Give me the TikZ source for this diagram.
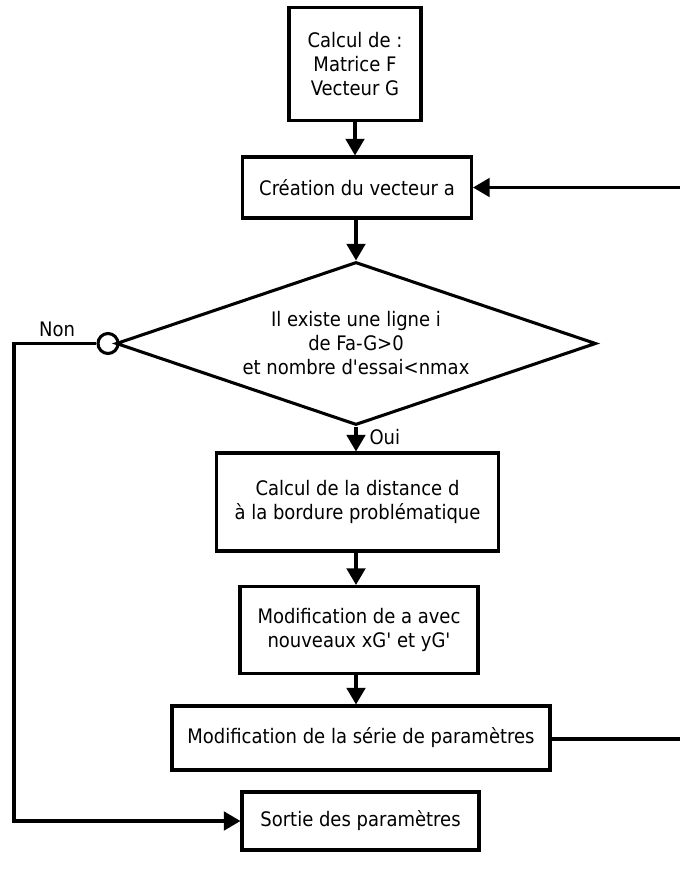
\documentclass[tikz,border=0pt]{standalone}
\usepackage{fontspec}
\setmainfont{DejaVu Sans Condensed}
\usetikzlibrary{arrows.meta,shapes.geometric}
\begin{document}
\begin{tikzpicture}[x=0.75pt,y=-0.75pt,
  line width=2.3pt,
  every node/.style={font=\fontsize{15}{18}\selectfont, align=center, inner sep=0pt},
  box/.style={draw, rectangle},
  arr/.style={-{Triangle[length=12.5pt,width=14pt]}},
  lbl/.style={font=\fontsize{15}{18}\selectfont}]
\useasboundingbox (0,0) rectangle (679,880);
\node[box, minimum width=132*0.75pt, minimum height=113*0.75pt] (b1) at (355,64) {Calcul de :\\Matrice F\\Vecteur G};
\node[box, minimum width=229*0.75pt, minimum height=61*0.75pt] (b2) at (357,187.5) {Création du vecteur a};
\node[draw, diamond, minimum width=480*0.75pt, minimum height=163*0.75pt, shape aspect=2.9] (d) at (356,343.5) {Il existe une ligne i\\de Fa-G>0\\et nombre d\textquotesingle essai<nmax};
\node[draw, circle, minimum size=20*0.75pt] (c) at (108,343.5) {};
\node[box, minimum width=282*0.75pt, minimum height=98*0.75pt] (b3) at (357.5,502) {Calcul de la distance d\\à la bordure problématique};
\node[box, minimum width=238*0.75pt, minimum height=87*0.75pt] (b4) at (359,630) {Modification de a avec\\nouveaux xG\textquotesingle{} et yG\textquotesingle};
\node[box, minimum width=378*0.75pt, minimum height=64*0.75pt] (b5) at (361,738) {Modification de la série de paramètres};
\node[box, minimum width=237*0.75pt, minimum height=58*0.75pt] (b6) at (360.5,821) {Sortie des paramètres};
\node[lbl] (non) at (57,329) {Non};
\node[lbl, anchor=west] (oui) at (368,437) {Oui};
\coordinate (r1) at (681,187.5);
\coordinate (r2) at (681,739);
\coordinate (l1) at (14,343.5);
\coordinate (l2) at (14,821);
\draw[arr] (b1.south -| 355,0) -- (355,0 |- b2.north);
\draw[arr] (356,0 |- b2.south) -- (d.north);
\draw[arr] (d.south) -- (356,0 |- b3.north);
\draw[arr] (356,0 |- b3.south) -- (356,0 |- b4.north);
\draw[arr] (356,0 |- b4.south) -- (356,0 |- b5.north);
\draw[arr] (r1) -- (b2.east);
\draw (b5.east |- r2) -- (r2);
\draw[arr] (c.west) -- (l1) -- (l2) -- (b6.west);
\end{tikzpicture}
\end{document}
